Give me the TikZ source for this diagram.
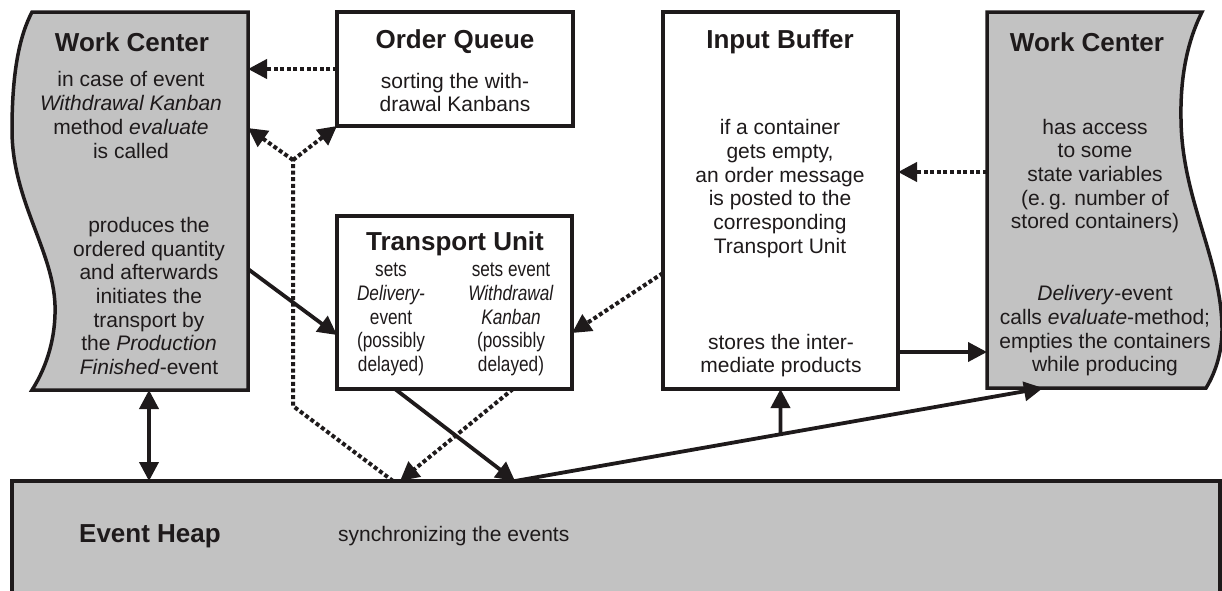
\documentclass[tikz,border=0pt]{standalone}
\usepackage{fontspec}
\setmainfont{Liberation Sans}
\newfontfamily\narrowsans[FakeStretch=0.82]{Liberation Sans}
\usetikzlibrary{arrows.meta,calc}
\definecolor{boxgray}{RGB}{194,194,194}
\definecolor{ink}{RGB}{30,26,27}

\begin{document}
\begin{tikzpicture}[x=1pt,y=-1pt,
  outline/.style={draw=ink, line width=3.5pt, line join=miter},
  plainbox/.style={outline, fill=white, rectangle, inner sep=0pt, outer sep=0pt, anchor=north west},
  frame/.style={rectangle, inner sep=0pt, outer sep=0pt, anchor=north west},
  title/.style={font=\fontsize{26}{30}\selectfont\bfseries, text=ink, inner sep=0pt},
  body/.style={font=\fontsize{21}{23.7}\selectfont, text=ink, align=center, inner sep=0pt},
  narrowbody/.style={font=\narrowsans\fontsize{21}{23.7}\selectfont, text=ink, align=center, inner sep=0pt},
  tip/.style={-{Triangle[length=19pt,width=19pt]}},
  flow/.style={draw=ink, line width=3.8pt},
  signal/.style={draw=ink, line width=4pt, dash pattern=on 4pt off 2.6pt},
]
\useasboundingbox (0,0) rectangle (1222,590);

% event heap (runs off the lower edge)
\node[plainbox, fill=boxgray, minimum width=1208pt, minimum height=140pt] (eh) at (12,481) {};
\node[title] (ehT) at (150,536) {Event Heap};
\node[body, anchor=west] (ehB) at (338,536) {synchronizing the events};

% left work center with wavy left side
\node[frame, minimum width=236pt, minimum height=378pt] (wcl) at (12,12) {};
\filldraw[outline, fill=boxgray] (32,12) -- (248,12) -- (248,390) -- (32,390)
  .. controls (48,365) and (56,335) .. (55,305)
  .. controls (53,250) and (12,200) .. (12,130)
  .. controls (12,70) and (20,35) .. (32,12) -- cycle;
\node[title] (wclT) at (132,42) {Work Center};
\node[body] (wclU) at (131,115) {in case of event\\ \textit{Withdrawal Kanban}\\ method \textit{evaluate}\\ is called};
\node[body] (wclL) at (149,296) {produces the\\ ordered quantity\\ and afterwards\\ initiates the\\ transport by\\ the \textit{Production}\\ \textit{Finished}-event};

% right work center with wavy right side
\node[frame, minimum width=235pt, minimum height=376pt] (wcr) at (987,12) {};
\filldraw[outline, fill=boxgray] (1202,12) -- (987,12) -- (987,388) -- (1206,388)
  .. controls (1214,375) and (1222,355) .. (1222,330)
  .. controls (1222,260) and (1182,200) .. (1181,120)
  .. controls (1180,75) and (1188,40) .. (1202,12) -- cycle;
\node[title] (wcrT) at (1087,42) {Work Center};
\node[body] (wcrU) at (1095,176) {has access\\ to some\\ state variables\\ (e.\,g. number of\\ stored containers)};
\node[body] (wcrL) at (1105,331) {\textit{Delivery}-event\\ calls \textit{evaluate}-method;\\ empties the containers\\ while producing};

% order queue
\node[plainbox, minimum width=236pt, minimum height=114pt] (oq) at (337,12) {};
\node[title] (oqT) at (455,42) {Order Queue};
\node[body] (oqB) at (455,92.5) {sorting the with-\\drawal Kanbans};

% transport unit
\node[plainbox, minimum width=235pt, minimum height=173pt] (tu) at (337,216) {};
\node[title] (tuT) at (455,244) {Transport Unit};
\node[narrowbody] (tuA) at (391,319.5) {sets\\ \textit{Delivery-}\\ event\\ (possibly\\ delayed)};
\node[narrowbody] (tuB) at (511,319.5) {sets event\\ \textit{Withdrawal}\\ \textit{Kanban}\\ (possibly\\ delayed)};

% input buffer
\node[plainbox, minimum width=235pt, minimum height=377pt] (ib) at (663,12) {};
\node[title] (ibT) at (780,42) {Input Buffer};
\node[body] (ibU) at (780,188.5) {if a container\\ gets empty,\\ an order message\\ is posted to the\\ corresponding\\ Transport Unit};
\node[body] (ibL) at (781,355.5) {stores the inter-\\ mediate products};

% connector end points
\coordinate (ehIn1) at (393,481);
\coordinate (ehIn2) at (400,481);
\coordinate (ehHub) at (515,481);
\coordinate (bend) at (293,406);
\coordinate (fork) at (293,160);
\coordinate (wclSig) at (248,128);
\coordinate (wclOut) at (248,269);
\coordinate (wclFoot) at (149,390);
\coordinate (tuIn) at ([yshift=-32.5pt]tu.west);
\coordinate (tuSig) at ([yshift=-30.5pt]tu.east);
\coordinate (tuOut) at ([xshift=-59.5pt]tu.south);
\coordinate (tuSigOut) at ([xshift=58.5pt]tu.south);
\coordinate (ibSig) at ([yshift=-72.5pt]ib.west);
\coordinate (ibOut) at ([yshift=-151.5pt]ib.east);
\coordinate (wcrSig) at ([yshift=28pt]wcr.west);
\coordinate (wcrIn) at (1043,388);
\coordinate (split) at ($(ehHub)!0.5028!(wcrIn)$);

% dotted signals
\draw[signal, tip] (oq.west) -- (oq.west -| wcl.east);
\draw[signal] (ehIn1) -- (bend) -- (fork);
\draw[signal, tip] (fork) -- (wclSig);
\draw[signal, tip] (fork) -- (oq.south west);
\draw[signal, tip] (tuSigOut) -- (ehIn2);
\draw[signal, tip] (ibSig) -- (tuSig);
\draw[signal, tip] (wcrSig) -- (wcrSig -| ib.east);

% solid material flow
\draw[flow, tip] (wclOut) -- (tuIn);
\draw[flow, tip] (tuOut) -- (ehHub);
\draw[flow, tip] (ehHub) -- (wcrIn);
\draw[flow, tip] (split) -- (ib.south);
\draw[flow, tip] (ibOut) -- (ibOut -| wcr.west);
\draw[flow, {Triangle[length=19pt,width=19pt]}-{Triangle[length=19pt,width=19pt]}] (wclFoot) -- (wclFoot |- eh.north);
\end{tikzpicture}
\end{document}
